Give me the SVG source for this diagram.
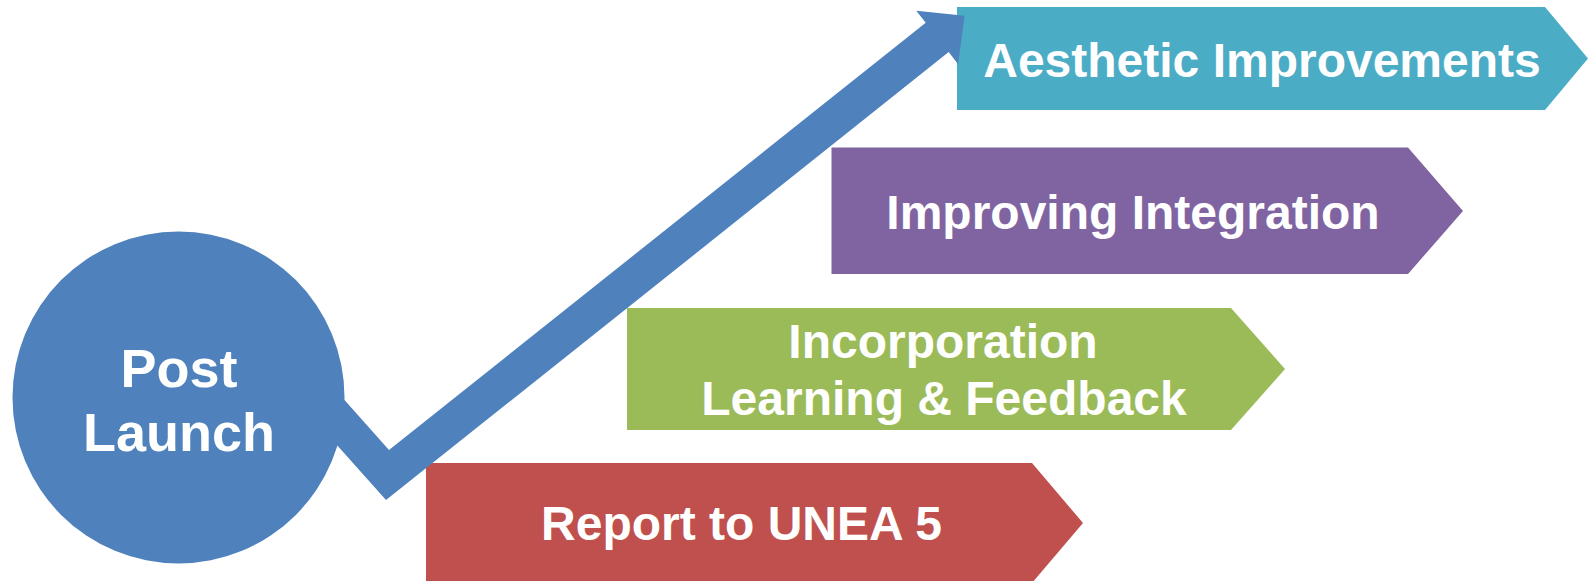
<svg xmlns="http://www.w3.org/2000/svg" width="1589" height="581" viewBox="0 0 1589 581">
  <style>
    .lbl { font-family: "Liberation Sans", Arial, sans-serif; font-weight: bold; fill: #FFFFFF; text-anchor: middle; }
    .big { font-size: 54px; }
    .mid { font-size: 48px; }
  </style>
  <rect width="1589" height="581" fill="#FFFFFF"/>
  <g id="node-aesthetic">
    <polygon points="957,7 1545,7 1588,58.5 1545,110 957,110" fill="#4BACC6"/>
    <text class="lbl mid" x="1262" y="77">Aesthetic Improvements</text>
  </g>
  <g id="node-integration">
    <polygon points="831.5,147.5 1408,147.5 1463,211 1408,274 831.5,274" fill="#8064A2"/>
    <text class="lbl mid" x="1133" y="229">Improving Integration</text>
  </g>
  <g id="node-incorporation">
    <polygon points="627,308 1231,308 1285,369 1231,430 627,430" fill="#9BBB59"/>
    <text class="lbl mid" x="943" y="358">Incorporation</text>
    <text class="lbl mid" x="944" y="415">Learning &amp; Feedback</text>
  </g>
  <g id="node-report">
    <polygon points="426,463 1032,463 1083,523 1032,583 426,583" fill="#C0504D"/>
    <text class="lbl mid" x="741.5" y="540">Report to UNEA 5</text>
  </g>
  <g id="node-post-launch">
    <circle cx="178.5" cy="397.5" r="166" fill="#4F81BD"/>
    <text class="lbl big" x="179" y="387">Post</text>
    <text class="lbl big" x="179" y="451">Launch</text>
  </g>
  <g id="connectors">
    <polygon points="300,350 389,450 925.7,22.8 916.3,10.7 964.6,15.7 958.1,64.3 948.7,52.1 386,500 290,392.5" fill="#4F81BD"/>
  </g>
</svg>
